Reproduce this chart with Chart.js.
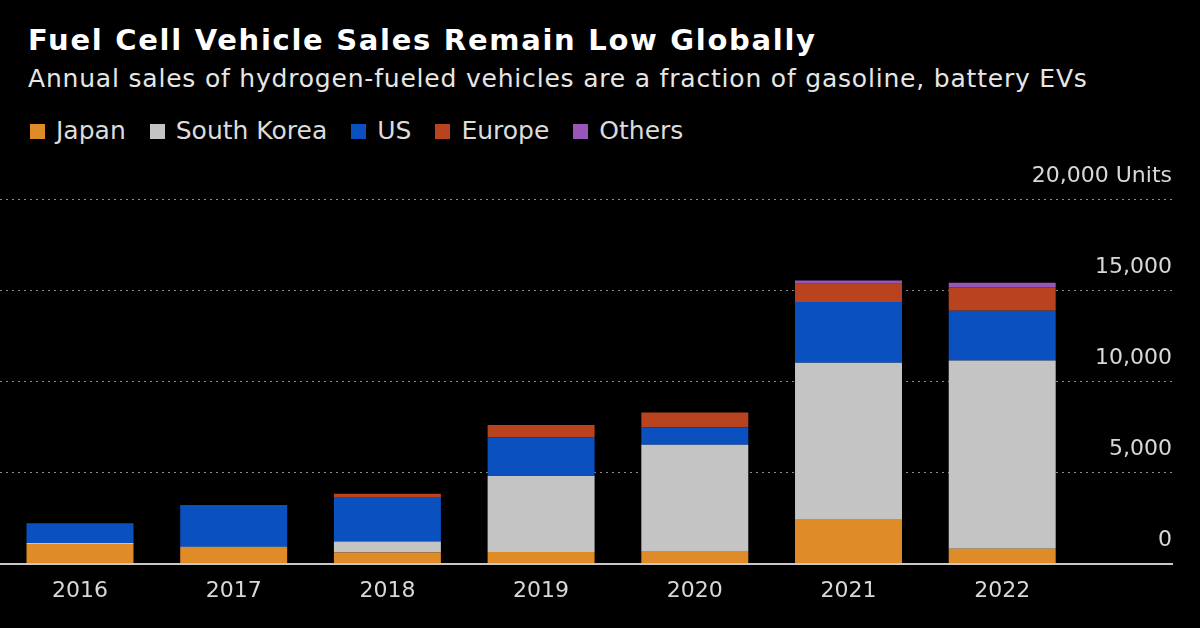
<!DOCTYPE html>
<html>
<head>
<meta charset="utf-8">
<script src="https://cdn.jsdelivr.net/npm/chart.js@4.4.1/dist/chart.umd.min.js"></script>
<style>
  html, body { margin: 0; padding: 0; background: #000; }
  #wrap { position: relative; width: 1200px; height: 628px; background: #000; overflow: hidden; font-family: "DejaVu Sans", "Noto Sans", sans-serif; }
  #title { position: absolute; left: 28px; top: 22px; margin: 0; font-size: 29px; letter-spacing: 1.7px; font-weight: bold; color: #ffffff; line-height: 36px; white-space: nowrap; }
  #subtitle { position: absolute; left: 28px; top: 63px; margin: 0; font-size: 25px; letter-spacing: 0.8px; color: #e6e6e6; line-height: 32px; white-space: nowrap; }
  #legend { position: absolute; left: 30px; top: 115px; height: 32px; display: flex; align-items: center; white-space: nowrap; }
  .li { display: flex; align-items: center; margin-right: 24px; font-size: 25px; color: #dcdcdc; line-height: 32px; }
  .sw { display: inline-block; width: 15px; height: 15px; margin-right: 11px; }
  #cv { position: absolute; left: 0; top: 0; }
</style>
</head>
<body>
<div id="wrap">
  <div id="title">Fuel Cell Vehicle Sales Remain Low Globally</div>
  <div id="subtitle">Annual sales of hydrogen-fueled vehicles are a fraction of gasoline, battery EVs</div>
  <div id="legend"></div>
  <canvas id="cv" width="1200" height="628"></canvas>
</div>
<script>
// ---- data ----
const years = [2016, 2017, 2018, 2019, 2020, 2021, 2022];
const japan = [1070, 870, 615, 630, 690, 2445, 815];
const southKorea = [60, 60, 600, 4175, 5825, 8570, 10330];
const us = [1050, 2240, 2400, 2125, 970, 3335, 2730];
const europe = [30, 50, 220, 675, 805, 1005, 1290];
const others = [0, 0, 0, 0, 0, 180, 235];
const seriesNames = ['Japan', 'South Korea', 'US', 'Europe', 'Others'];
const seriesColors = ['#DF8B27', '#C4C4C4', '#0A50BE', '#B9421F', '#9657B8'];
const yTicks = [0, 5000, 10000, 15000, 20000];

const FONT = '"DejaVu Sans", "Noto Sans", sans-serif';
const seriesValues = [japan, southKorea, us, europe, others];

const datasets = seriesNames.map((name, k) => ({
  label: name,
  data: years.map((yr, i) => ({ x: yr, y: seriesValues[k][i] })),
  backgroundColor: seriesColors[k],
  borderWidth: 0
}));

const chart = new Chart(document.getElementById('cv').getContext('2d'), {
  type: 'bar',
  data: { datasets },
  options: {
    responsive: false,
    animation: false,
    layout: { padding: { top: 199, left: 0, right: 28, bottom: 18 } },
    datasets: { bar: { categoryPercentage: 0.8, barPercentage: 0.87 } },
    plugins: { legend: { display: false }, tooltip: { enabled: false } },
    scales: {
      x: {
        type: 'linear',
        stacked: true,
        offset: false,
        bounds: 'data',
        min: 2015.4795,
        max: 2023.1047,
        afterBuildTicks: (s) => { s.ticks = years.map(v => ({ value: v })); },
        grid: { display: false },
        border: { display: true, color: '#c8c8c8', width: 2 },
        ticks: {
          autoSkip: false, maxRotation: 0, padding: 6,
          color: '#d8d8d8', font: { family: FONT, size: 22 },
          callback: (v) => String(v)
        }
      },
      y: {
        position: 'right',
        stacked: true,
        min: 0,
        max: 20000,
        afterBuildTicks: (s) => { s.ticks = yTicks.map(v => ({ value: v })); },
        grid: {
          drawTicks: false,
          lineWidth: 1,
          color: (c) => (c.tick && c.tick.value === 0) ? 'rgba(0,0,0,0)' : '#8a8a8a'
        },
        border: { display: false, dash: [2, 4] },
        ticks: {
          mirror: true, padding: 0, labelOffset: -23,
          color: '#d8d8d8', font: { family: FONT, size: 22 },
          callback: (v) => v === 20000 ? '20,000 Units' : v.toLocaleString('en-US')
        }
      }
    }
  }
});

// HTML legend built from the chart's datasets
const legendEl = document.getElementById('legend');
chart.data.datasets.forEach(ds => {
  const item = document.createElement('div');
  item.className = 'li';
  const sw = document.createElement('span');
  sw.className = 'sw';
  sw.style.background = ds.backgroundColor;
  const tx = document.createElement('span');
  tx.textContent = ds.label;
  item.appendChild(sw);
  item.appendChild(tx);
  legendEl.appendChild(item);
});
</script>
</body>
</html>
